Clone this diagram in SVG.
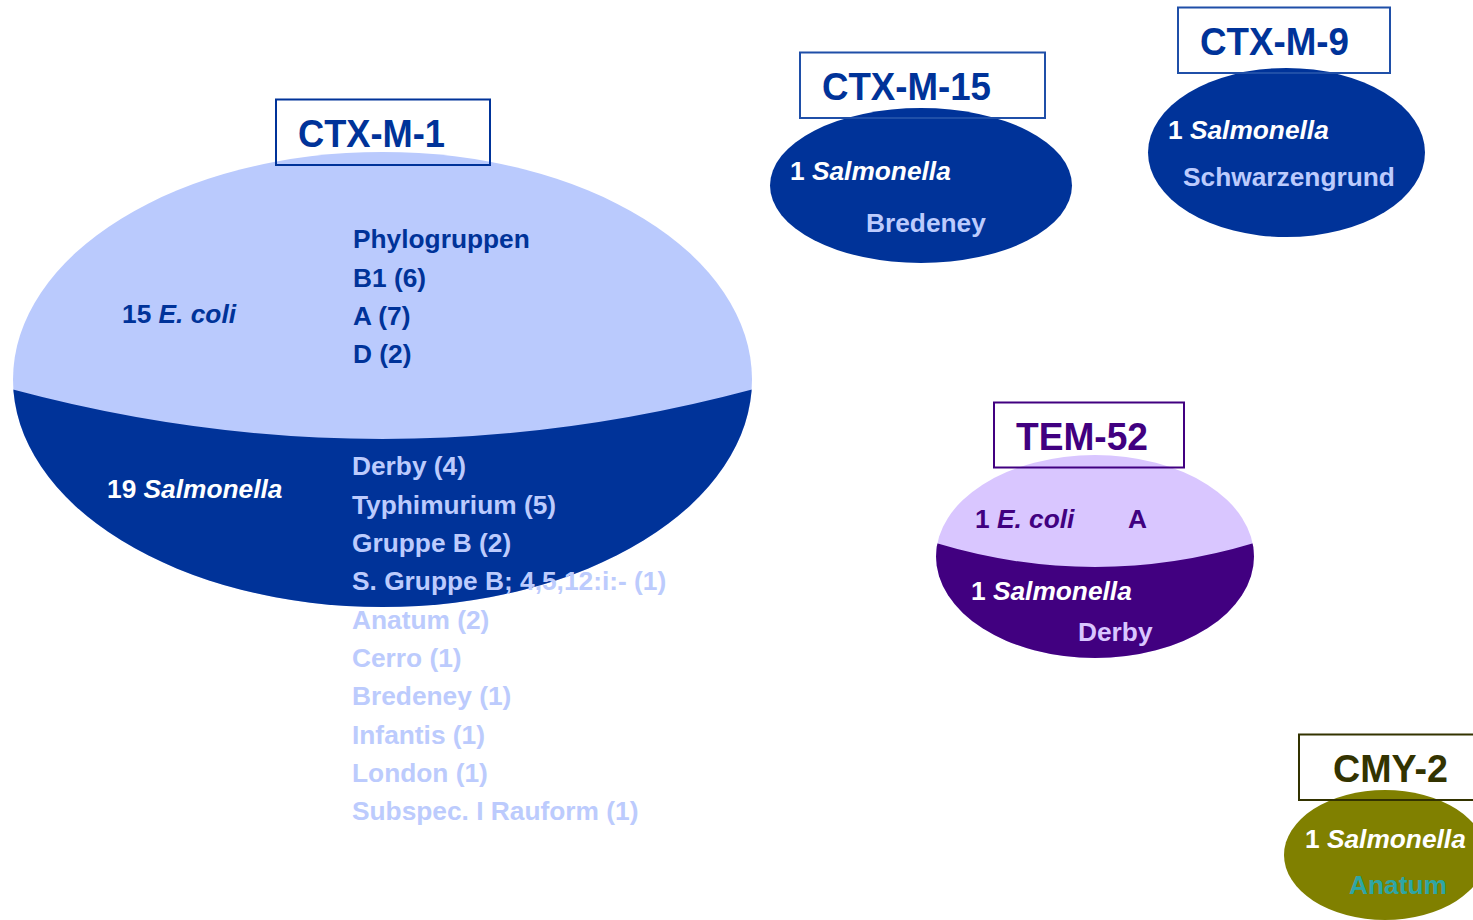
<svg xmlns="http://www.w3.org/2000/svg" width="1473" height="920" viewBox="0 0 1473 920">
<style>
text{font-family:"Liberation Sans",Arial,Helvetica,sans-serif;font-weight:bold}
.t{font-size:39px}
.s{font-size:26.3px}
.i{font-style:italic}
.box{fill:none;stroke-width:2}
.blue{fill:#003399}
.lb{fill:#BCCBFD}
.wh{fill:#FFFFFF}
</style>
<defs>
<clipPath id="c1"><ellipse cx="382.5" cy="379.5" rx="369.5" ry="227.5"/></clipPath>
<clipPath id="c4"><ellipse cx="1095" cy="556.5" rx="159" ry="101.5"/></clipPath>
</defs>
<rect width="1473" height="920" fill="#FFFFFF"/>
<g id="connectors"/>
<g id="ctxm1">
<ellipse cx="382.5" cy="379.5" rx="369.5" ry="227.5" fill="#BACAFD"/>
<path d="M0 386 Q382 492 765 386 L765 620 L0 620 Z" fill="#003399" clip-path="url(#c1)"/>
<rect class="box" x="276" y="99.5" width="214" height="65.5" stroke="#003399"/>
<text class="t blue" x="298" y="147" textLength="147" lengthAdjust="spacingAndGlyphs">CTX-M-1</text>
<text class="s blue" x="353" y="248">Phylogruppen</text>
<text class="s blue" x="353" y="287">B1 (6)</text>
<text class="s blue" x="353" y="325">A (7)</text>
<text class="s blue" x="353" y="363">D (2)</text>
<text class="s blue" x="122" y="323">15 <tspan class="i">E. coli</tspan></text>
<text class="s wh" x="107" y="498">19 <tspan class="i">Salmonella</tspan></text>
<text class="s lb" x="352" y="475">Derby (4)</text>
<text class="s lb" x="352" y="514">Typhimurium (5)</text>
<text class="s lb" x="352" y="552">Gruppe B (2)</text>
<text class="s lb" x="352" y="590">S. Gruppe B; 4,5,12:i:- (1)</text>
<text class="s lb" x="352" y="629">Anatum (2)</text>
<text class="s lb" x="352" y="667">Cerro (1)</text>
<text class="s lb" x="352" y="705">Bredeney (1)</text>
<text class="s lb" x="352" y="744">Infantis (1)</text>
<text class="s lb" x="352" y="782">London (1)</text>
<text class="s lb" x="352" y="820">Subspec. I Rauform (1)</text>
</g>
<g id="ctxm15">
<ellipse cx="921" cy="185.5" rx="151" ry="77.5" fill="#003399"/>
<rect class="box" x="800" y="52.5" width="245" height="65.5" stroke="#1F4FA8"/>
<text class="t blue" x="822" y="100" textLength="169" lengthAdjust="spacingAndGlyphs">CTX-M-15</text>
<text class="s wh" x="790" y="180">1 <tspan class="i">Salmonella</tspan></text>
<text class="s lb" x="866" y="232">Bredeney</text>
</g>
<g id="ctxm9">
<ellipse cx="1286.5" cy="152.5" rx="138.5" ry="84.5" fill="#003399"/>
<rect class="box" x="1178" y="7.5" width="212" height="65.5" stroke="#1F4FA8"/>
<text class="t blue" x="1200" y="55" textLength="149" lengthAdjust="spacingAndGlyphs">CTX-M-9</text>
<text class="s wh" x="1168" y="139">1 <tspan class="i">Salmonella</tspan></text>
<text class="s lb" x="1183" y="186">Schwarzengrund</text>
</g>
<g id="tem52">
<ellipse cx="1095" cy="556.5" rx="159" ry="101.5" fill="#D9C6FF"/>
<path d="M920 538 Q1095 596 1270 538 L1270 670 L920 670 Z" fill="#410080" clip-path="url(#c4)"/>
<rect class="box" x="994" y="402.5" width="190" height="65" stroke="#410080"/>
<text class="t" fill="#410080" x="1016" y="450" textLength="132" lengthAdjust="spacingAndGlyphs">TEM-52</text>
<text class="s" fill="#410080" x="975" y="528">1 <tspan class="i">E. coli</tspan></text>
<text class="s" fill="#410080" x="1128" y="528">A</text>
<text class="s wh" x="971" y="600">1 <tspan class="i">Salmonella</tspan></text>
<text class="s" fill="#D9C6FF" x="1078" y="641">Derby</text>
</g>
<g id="cmy2">
<ellipse cx="1385" cy="855" rx="101" ry="65" fill="#808000"/>
<rect class="box" x="1299" y="734.5" width="190" height="65.5" stroke="#333300"/>
<text class="t" fill="#333300" x="1333" y="782" textLength="115" lengthAdjust="spacingAndGlyphs">CMY-2</text>
<text class="s wh" x="1305" y="848">1 <tspan class="i">Salmonella</tspan></text>
<text class="s" fill="#2EA6A6" x="1349" y="894">Anatum</text>
</g>
</svg>
